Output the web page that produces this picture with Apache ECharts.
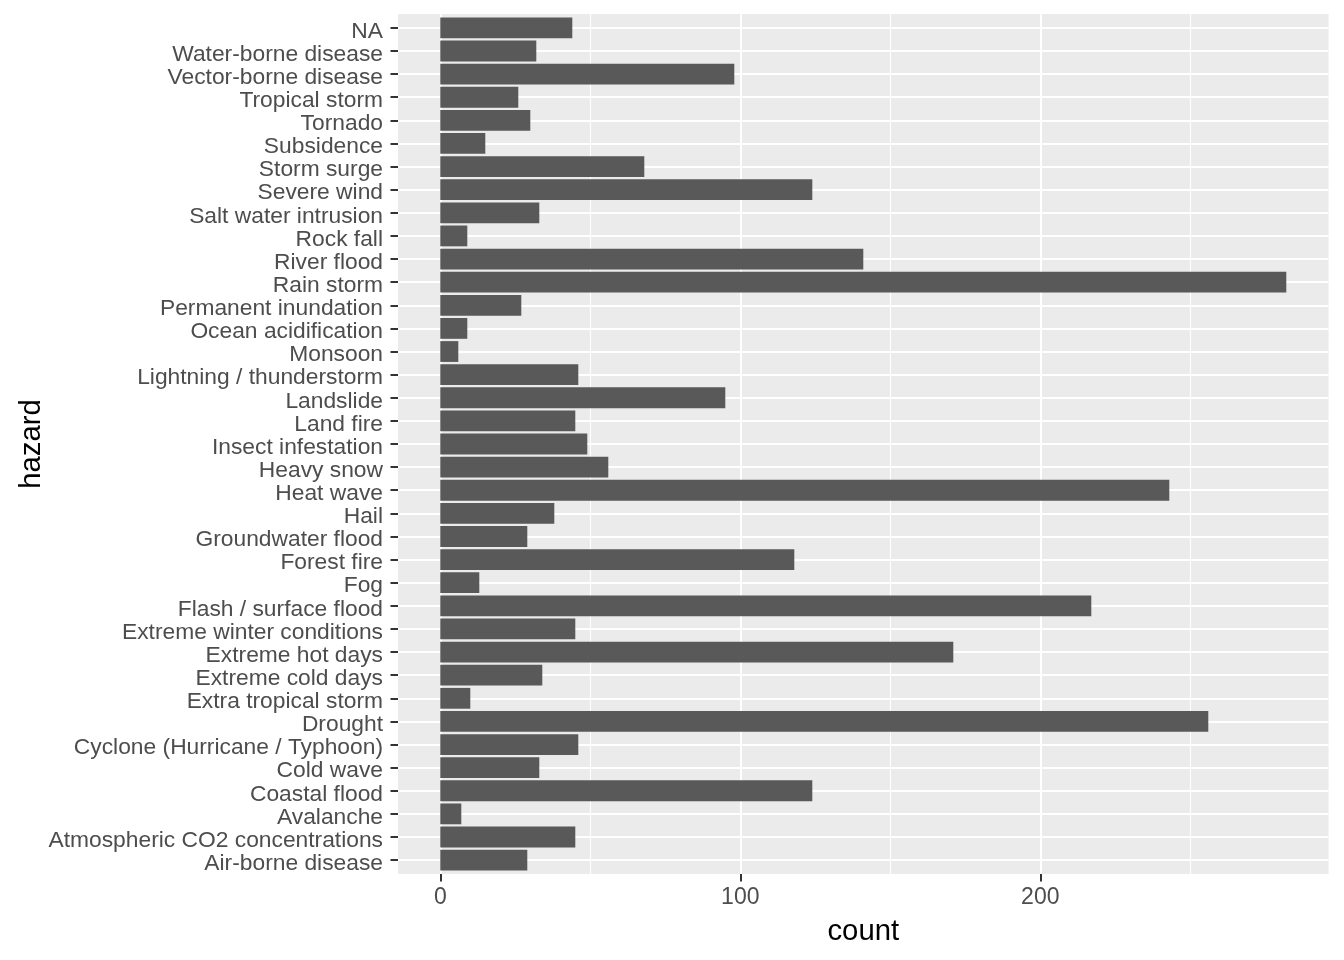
<!DOCTYPE html>
<html>
<head>
<meta charset="utf-8">
<script src="https://cdn.jsdelivr.net/npm/echarts@6/dist/echarts.min.js"></script>
<style>
html,body{margin:0;padding:0;background:#fff;}
#chart{width:1344px;height:960px;}
</style>
</head>
<body>
<div id="chart"></div>
<script>
// categories, bottom to top (as drawn on the y axis)
const hazards = [
  "Air-borne disease",
  "Atmospheric CO2 concentrations",
  "Avalanche",
  "Coastal flood",
  "Cold wave",
  "Cyclone (Hurricane / Typhoon)",
  "Drought",
  "Extra tropical storm",
  "Extreme cold days",
  "Extreme hot days",
  "Extreme winter conditions",
  "Flash / surface flood",
  "Fog",
  "Forest fire",
  "Groundwater flood",
  "Hail",
  "Heat wave",
  "Heavy snow",
  "Insect infestation",
  "Land fire",
  "Landslide",
  "Lightning / thunderstorm",
  "Monsoon",
  "Ocean acidification",
  "Permanent inundation",
  "Rain storm",
  "River flood",
  "Rock fall",
  "Salt water intrusion",
  "Severe wind",
  "Storm surge",
  "Subsidence",
  "Tornado",
  "Tropical storm",
  "Vector-borne disease",
  "Water-borne disease",
  "NA"
];
const counts = [29, 45, 7, 124, 33, 46, 256, 10, 34, 171, 45, 217, 13, 118, 29, 38, 243, 56, 49, 45, 95, 46, 6, 9, 27, 282, 141, 9, 33, 124, 68, 15, 30, 26, 98, 32, 44];
const xMajorTicks = [0, 100, 200];
const xMinorTicks = [50, 150, 250];
const xTitle = "count";
const yTitle = "hazard";

// ggplot-like expansions
const maxCount = Math.max(...counts);
const xMin = -0.05 * maxCount;
const xMax = maxCount * 1.05;

const panel = {left: 398, top: 14, width: 930.6, height: 860};
const nCat = hazards.length;
const unit = panel.height / (nCat - 1 + 1.2);

const FONT = "'Liberation Sans', Arial, sans-serif";
const chart = echarts.init(document.getElementById('chart'));
chart.setOption({
  animation: false,
  backgroundColor: '#ffffff',
  grid: [
    {left: panel.left, top: panel.top, width: panel.width, height: panel.height,
     show: true, backgroundColor: '#EBEBEB', borderWidth: 0,
     containLabel: false, outerBoundsMode: 'none'},
    {left: panel.left, top: panel.top + 0.6 * unit, width: panel.width, height: (nCat - 1) * unit,
     show: false, containLabel: false, outerBoundsMode: 'none'}
  ],
  xAxis: [
    {
      gridIndex: 0, type: 'value', min: xMin, max: xMax,
      axisLine: {show: false},
      axisTick: {show: true, customValues: xMajorTicks, length: 7.5, lineStyle: {color: '#333333', width: 2}},
      axisLabel: {show: true, customValues: xMajorTicks, color: '#4D4D4D', fontSize: 23, fontFamily: FONT, margin: 12},
      splitLine: {show: true, lineStyle: {color: '#ffffff', width: 2}},
      name: xTitle, nameLocation: 'middle', nameGap: 43, nameMoveOverlap: false,
      nameTextStyle: {color: '#000000', fontSize: 29.3, fontFamily: FONT}
    },
    {
      gridIndex: 0, type: 'value', min: xMin, max: xMax,
      axisLine: {show: false},
      axisTick: {show: false, customValues: xMinorTicks},
      axisLabel: {show: false, customValues: xMinorTicks},
      splitLine: {show: true, lineStyle: {color: '#ffffff', width: 1.1}}
    },
    {
      gridIndex: 1, type: 'value', min: xMin, max: xMax, show: false,
      splitLine: {show: false}
    }
  ],
  yAxis: [
    {gridIndex: 0, type: 'value', min: 0, max: 1, show: false, splitLine: {show: false}},
    {
      gridIndex: 1, type: 'category', data: hazards, boundaryGap: false,
      axisLine: {show: false, onZero: false},
      axisTick: {show: true, length: 7.5, lineStyle: {color: '#333333', width: 2}},
      axisLabel: {show: true, interval: 0, color: '#4D4D4D', fontSize: 22.8, fontFamily: FONT, margin: 15,
                  verticalAlign: 'top', lineHeight: 7},
      splitLine: {show: true, interval: 0, lineStyle: {color: '#ffffff', width: 2}},
      name: yTitle, nameLocation: 'middle', nameRotate: 90, nameGap: 352, nameMoveOverlap: false,
      nameTextStyle: {color: '#000000', fontSize: 29.3, fontFamily: FONT}
    }
  ],
  series: [
    {
      type: 'bar', xAxisIndex: 2, yAxisIndex: 1, data: counts,
      barWidth: '90%', clip: false,
      itemStyle: {color: '#595959'},
      emphasis: {disabled: true}
    }
  ]
});
</script>
</body>
</html>
